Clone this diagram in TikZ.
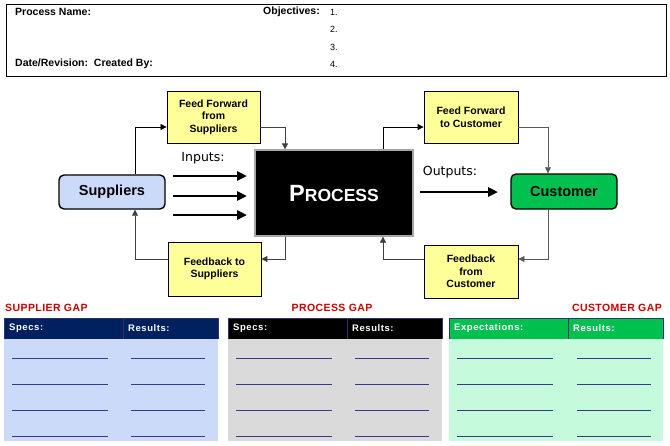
\documentclass[tikz,border=0pt]{standalone}
\usepackage{fontspec}
\setmainfont{Liberation Sans}
\newfontfamily\dvs{DejaVu Sans}
\usetikzlibrary{arrows.meta,calc}
\definecolor{navy}{HTML}{002060}
\definecolor{bluebody}{HTML}{CCDAFA}
\definecolor{graybody}{HTML}{DADADA}
\definecolor{custgreen}{HTML}{00C050}
\definecolor{mint}{HTML}{C6FADC}
\definecolor{yfill}{HTML}{FFFF99}
\definecolor{gapred}{HTML}{CC0000}
\definecolor{tborder}{HTML}{333366}
\definecolor{uline}{HTML}{3A3A8A}
\tikzset{
  hdrtext/.style={font=\fontsize{10.5}{12}\selectfont\bfseries, inner sep=0pt, anchor=west},
  numtext/.style={font=\fontsize{9}{11}\selectfont, inner sep=0pt, anchor=west},
  ybox/.style={draw=black, line width=0.8pt, fill=yfill, minimum width=93pt, align=center,
    font=\fontsize{10.5}{12.5}\selectfont\bfseries, inner sep=1pt},
  endbox/.style={draw=black, line width=1.4pt, rounded corners=5pt, minimum width=106pt,
    font=\fontsize{14.5}{16}\selectfont\bfseries, inner sep=1pt},
  conn/.style={-{Triangle[length=6pt,width=6pt]}, line width=0.7pt},
  fat/.style={-{Triangle[length=10pt,width=9pt]}, line width=2.8pt},
  iolabel/.style={font=\dvs\fontsize{12.5}{14}\selectfont, inner sep=0pt},
  gaplabel/.style={font=\fontsize{10.5}{12}\selectfont\bfseries\addfontfeatures{LetterSpace=4}, text=gapred, inner sep=0pt},
  thead/.style={font=\fontsize{9.5}{11}\selectfont\bfseries\addfontfeatures{LetterSpace=6}, text=white, inner sep=0pt, anchor=west},
  blank/.style={draw=uline, line width=0.8pt},
}
\begin{document}
\begin{tikzpicture}[x=1pt,y=-1pt]
\useasboundingbox (0,0) rectangle (670,445);
\fill[white] (0,0) rectangle (670,445);

% header box
\draw[line width=1pt] (6,4) rectangle (666,76);
\node[hdrtext] (pname) at (15,12) {Process Name:};
\node[hdrtext, anchor=east] (obj) at (320,12) {Objectives:};
\node[numtext] (n1) at (330,12) {1.};
\node[numtext] (n2) at (330,29.5) {2.};
\node[numtext] (n3) at (330,47) {3.};
\node[numtext] (n4) at (330,64.5) {4.};
\node[hdrtext] (date) at (15,63.5) {Date/Revision:\ \ Created By:};

% main diagram
\node[endbox, fill=bluebody, minimum height=34pt] (sup) at (112,192) {Suppliers};
\node[endbox, fill=custgreen, minimum height=35pt] (cust) at (564,191.5) {Customer};
\node[ybox, minimum height=52pt] (ffs) at (213.5,117) {Feed Forward\\from\\Suppliers};
\node[ybox, minimum height=54pt] (fbs) at (214.5,269) {Feedback to\\Suppliers};
\node[ybox, minimum width=94pt, minimum height=52pt] (ffc) at (471,117) {Feed Forward\\to Customer};
\node[ybox, minimum width=94pt, minimum height=53pt] (fbc) at (471,271.5) {Feedback\\from\\Customer};
\node[draw=gray!70, line width=1.2pt, fill=black, minimum width=158pt, minimum height=86pt, inner sep=0pt,
  text=white, font=\bfseries] (proc) at (334,193)
  {{\fontsize{23.5}{24}\selectfont P}{\fontsize{17.5}{20}\selectfont ROCESS}};

% feedback / feed-forward connectors
\draw[conn] ($(sup.north)+(23,0)$) |- ($(ffs.west)+(0,10)$);
\draw[conn, draw=black!75] ($(ffs.east)+(0,10)$) -| ($(proc.north)+(-49,0)$);
\draw[conn, draw=black!75] ($(proc.south)+(-49,0)$) |- ($(fbs.east)+(0,-10)$);
\draw[conn, draw=black!75] ($(fbs.west)+(0,-10)$) -| ($(sup.south)+(23,0)$);
\draw[conn] ($(proc.north)+(49,0)$) |- ($(ffc.west)+(0,10)$);
\draw[conn, draw=black!65] ($(ffc.east)+(0,10)$) -| ($(cust.north)+(-16,0)$);
\draw[conn, draw=black!65] ($(cust.south)+(-16,0)$) |- ($(fbc.east)+(0,-12.5)$);
\draw[conn, draw=black!75] ($(fbc.west)+(0,-12.5)$) -| ($(proc.south)+(49,0)$);

% inputs / outputs
\node[iolabel] (inl) at (203,158) {Inputs:};
\node[iolabel] (outl) at (450,172) {Outputs:};
\coordinate (i1a) at (173,176); \coordinate (i1b) at (247,176);
\coordinate (i2a) at (173,196); \coordinate (i2b) at (247,196);
\coordinate (i3a) at (173,215); \coordinate (i3b) at (247,215);
\coordinate (oa) at (420,192); \coordinate (ob) at (498,192);
\draw[fat] (i1a) -- (i1b);
\draw[fat] (i2a) -- (i2b);
\draw[fat] (i3a) -- (i3b);
\draw[fat] (oa) -- (ob);

% gap labels
\node[gaplabel, anchor=west] (gs) at (5,308) {SUPPLIER GAP};
\node[gaplabel] (gp) at (332,308) {PROCESS GAP};
\node[gaplabel, anchor=east] (gc) at (662,308) {CUSTOMER GAP};

% tables
\foreach \x/\d/\r/\hc/\bc/\ta/\tb/\la/\lb/\ma/\mb [count=\i] in {
  4/123/218/navy/bluebody/Specs:/Results:/12/108/131/205,
  228/347/442/black/graybody/Specs:/Results:/236/332/355/429,
  449/568/663/custgreen/mint/Expectations:/Results:/457/553/577/651}{
  \fill[\bc] (\x,339) rectangle (\r,441);
  \fill[\hc] (\x,318) rectangle (\r,339);
  \draw[tborder, line width=0.8pt] (\x,339) -- (\x,318) -- (\r,318) -- (\r,339);
  \draw[tborder, line width=0.8pt] (\d,318) -- (\d,339);
  \node[thead] (ha\i) at (\x+5,328.5) {\ta};
  \node[thead] (hb\i) at (\d+5,328.5) {\tb};
  \foreach \yy in {358,384,410,436}{
    \draw[blank] (\la,\yy) -- (\lb,\yy);
    \draw[blank] (\ma,\yy) -- (\mb,\yy);
  }
}
\end{tikzpicture}
\end{document}
